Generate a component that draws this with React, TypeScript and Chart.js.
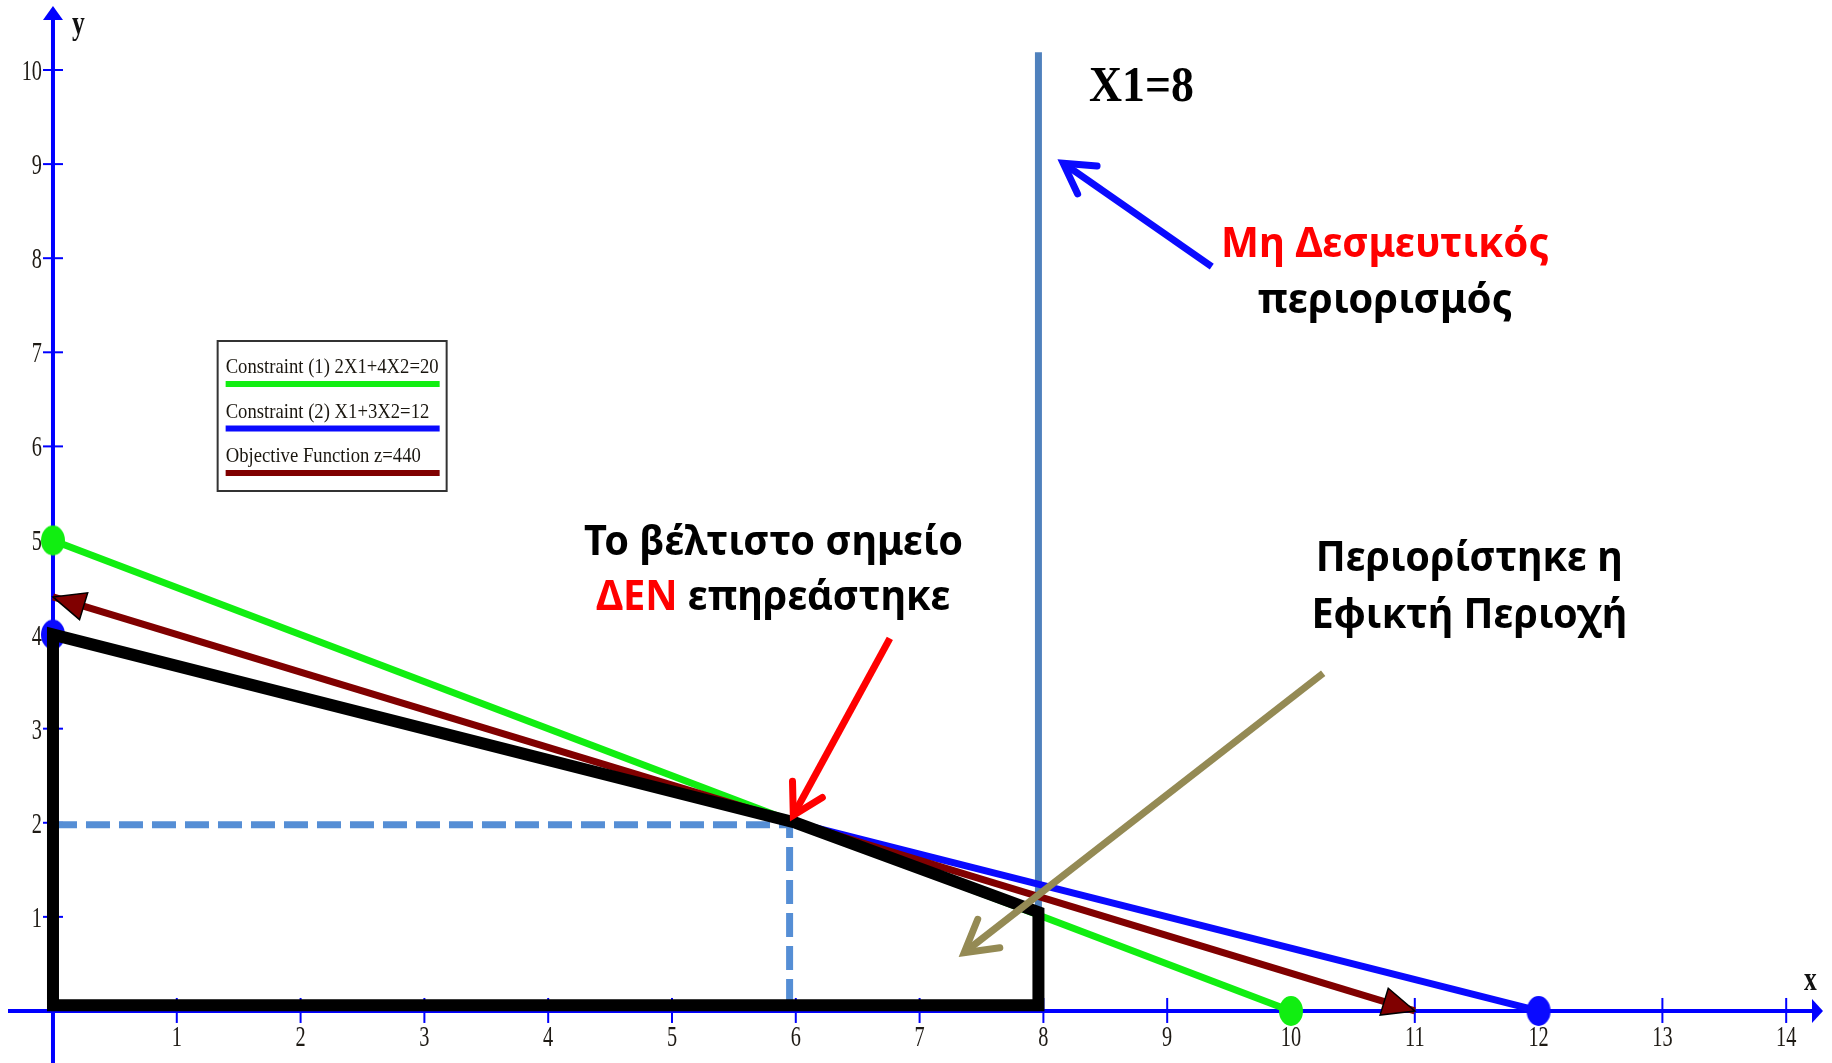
import React, { useEffect, useRef } from 'react';
import { Chart, registerables } from 'chart.js';

Chart.register(...registerables);

// ---------------- data ----------------
const xTickValues = [1, 2, 3, 4, 5, 6, 7, 8, 9, 10, 11, 12, 13, 14];
const xTickLabels = ['1', '2', '3', '4', '5', '6', '7', '8', '9', '10', '11', '12', '13', '14'];
const yTickValues = [1, 2, 3, 4, 5, 6, 7, 8, 9, 10];
const yTickLabels = ['1', '2', '3', '4', '5', '6', '7', '8', '9', '10'];

const constraint1X = [0, 10];
const constraint1Y = [5, 0];
const constraint2X = [0, 12];
const constraint2Y = [4, 0];
const objectiveX = [0, 11];
const objectiveY = [4.4, 0];
const feasibleX = [0, 0, 6, 7.96, 7.96, 0];
const feasibleY = [0.06, 4, 2, 1.05, 0.06, 0.06];
const limitX = [7.96, 7.96];
const limitY = [0, 10.19];
const guideX = [0, 5.95, 5.95];
const guideY = [1.98, 1.98, 0.1];

const seriesLabels = [
  'Constraint (1) 2X1+4X2=20',
  'Constraint (2) X1+3X2=12',
  'Objective Function z=440',
];

// ---------------- layout / style ----------------
const W = 1832;
const H = 1063;
const X_MIN = -0.428;
const X_MAX = 14.37;
const Y_MIN = -0.553;
const Y_MAX = 10.744;

const AXIS_BLUE = '#0000ff';
const GREEN = '#11ee11';
const BLUE = '#0a0aff';
const DARK_RED = '#800000';
const STEEL = '#4f81bd';
const GUIDE = '#558ed5';
const OLIVE = '#948a54';

const GREEK_FONT = '"Noto Sans", "Open Sans", "DejaVu Sans", sans-serif';
const SERIF = '"Liberation Serif", "Times New Roman", serif';

const pts = (xs: number[], ys: number[]) => xs.map((x, i) => ({ x, y: ys[i] }));

function makeEllipse(color: string): HTMLCanvasElement {
  const c = document.createElement('canvas');
  c.width = 26;
  c.height = 32;
  const g = c.getContext('2d')!;
  g.fillStyle = color;
  g.beginPath();
  g.ellipse(13, 16, 12, 15, 0, 0, Math.PI * 2);
  g.fill();
  return c;
}

function filledArrow(ctx: CanvasRenderingContext2D, tx: number, ty: number, fx: number, fy: number, len: number, half: number, fill: string) {
  const a = Math.atan2(ty - fy, tx - fx);
  const bx = tx - len * Math.cos(a);
  const by = ty - len * Math.sin(a);
  const nx = -Math.sin(a);
  const ny = Math.cos(a);
  ctx.save();
  ctx.beginPath();
  ctx.moveTo(tx, ty);
  ctx.lineTo(bx + half * nx, by + half * ny);
  ctx.lineTo(bx - half * nx, by - half * ny);
  ctx.closePath();
  ctx.fillStyle = fill;
  ctx.fill();
  ctx.lineWidth = 1.5;
  ctx.strokeStyle = '#000';
  ctx.stroke();
  ctx.restore();
}

function chevronArrow(ctx: CanvasRenderingContext2D, fx: number, fy: number, tx: number, ty: number, color: string, width: number, wing: number, angDeg: number) {
  const a = Math.atan2(fy - ty, fx - tx);
  const d = (angDeg * Math.PI) / 180;
  ctx.save();
  ctx.strokeStyle = color;
  ctx.lineWidth = width;
  ctx.lineCap = 'butt';
  ctx.beginPath();
  ctx.moveTo(fx, fy);
  ctx.lineTo(tx, ty);
  ctx.stroke();
  ctx.lineCap = 'round';
  ctx.lineJoin = 'miter';
  ctx.beginPath();
  ctx.moveTo(tx + wing * Math.cos(a + d), ty + wing * Math.sin(a + d));
  ctx.lineTo(tx, ty);
  ctx.lineTo(tx + wing * Math.cos(a - d), ty + wing * Math.sin(a - d));
  ctx.stroke();
  ctx.restore();
}

type Part = { text: string; color: string };

function drawBlock(ctx: CanvasRenderingContext2D, lines: Part[][], cx: number, baseline: number, lineGap: number, font: string, targetWidth: number) {
  ctx.save();
  ctx.font = font;
  ctx.textAlign = 'left';
  ctx.textBaseline = 'alphabetic';
  const first = lines[0].map((p) => ctx.measureText(p.text).width).reduce((a, b) => a + b, 0);
  const sx = targetWidth / first;
  lines.forEach((parts, li) => {
    const widths = parts.map((p) => ctx.measureText(p.text).width);
    const total = widths.reduce((a, b) => a + b, 0);
    ctx.save();
    ctx.translate(cx, baseline + li * lineGap);
    ctx.scale(sx, 1);
    let x = -total / 2;
    parts.forEach((p, i) => {
      ctx.fillStyle = p.color;
      ctx.fillText(p.text, x, 0);
      x += widths[i];
    });
    ctx.restore();
  });
  ctx.restore();
}

function squeezedText(ctx: CanvasRenderingContext2D, text: string, x: number, y: number, sx: number, align: 'left' | 'right' | 'center') {
  ctx.save();
  ctx.translate(x, y);
  ctx.scale(sx, 1);
  ctx.textAlign = align;
  ctx.fillText(text, 0, 0);
  ctx.restore();
}

const axesPlugin = {
  id: 'axesPlugin',
  beforeDatasetsDraw(chart: any) {
    const ctx: CanvasRenderingContext2D = chart.ctx;
    const xs = chart.scales.x;
    const ys = chart.scales.y;
    const x0 = xs.getPixelForValue(0);
    const y0 = ys.getPixelForValue(0);
    ctx.save();
    ctx.strokeStyle = AXIS_BLUE;
    ctx.fillStyle = AXIS_BLUE;
    // x axis
    ctx.lineWidth = 4;
    ctx.beginPath();
    ctx.moveTo(8, y0);
    ctx.lineTo(1814, y0);
    ctx.stroke();
    ctx.beginPath();
    ctx.moveTo(1823, y0);
    ctx.lineTo(1812, y0 - 12);
    ctx.lineTo(1812, y0 + 12);
    ctx.closePath();
    ctx.fill();
    // y axis
    ctx.beginPath();
    ctx.moveTo(x0, H);
    ctx.lineTo(x0, 18);
    ctx.stroke();
    ctx.beginPath();
    ctx.moveTo(x0, 6);
    ctx.lineTo(x0 - 10, 20);
    ctx.lineTo(x0 + 10, 20);
    ctx.closePath();
    ctx.fill();
    // ticks
    ctx.lineWidth = 2;
    xTickValues.forEach((v) => {
      const px = xs.getPixelForValue(v);
      ctx.beginPath();
      ctx.moveTo(px, y0 - 13);
      ctx.lineTo(px, y0 + 12);
      ctx.stroke();
    });
    yTickValues.forEach((v) => {
      const py = ys.getPixelForValue(v);
      ctx.beginPath();
      ctx.moveTo(x0 - 10, py);
      ctx.lineTo(x0 + 10, py);
      ctx.stroke();
    });
    // tick labels
    ctx.fillStyle = '#1e1a14';
    ctx.font = `29px ${SERIF}`;
    ctx.textBaseline = 'alphabetic';
    xTickValues.forEach((v, i) => {
      squeezedText(ctx, xTickLabels[i], xs.getPixelForValue(v), y0 + 35, 0.7, 'center');
    });
    yTickValues.forEach((v, i) => {
      squeezedText(ctx, yTickLabels[i], x0 - 11, ys.getPixelForValue(v) + 10, 0.7, 'right');
    });
    // axis names
    ctx.fillStyle = '#111';
    ctx.font = `bold 34px ${SERIF}`;
    squeezedText(ctx, 'y', x0 + 19, 34, 0.75, 'left');
    squeezedText(ctx, 'x', 1804, y0 - 21, 0.75, 'left');
    ctx.restore();
  },
};

const overlayPlugin = {
  id: 'overlayPlugin',
  afterDatasetsDraw(chart: any) {
    const ctx: CanvasRenderingContext2D = chart.ctx;
    const xs = chart.scales.x;
    const ys = chart.scales.y;
    const px = (v: number) => xs.getPixelForValue(v);
    const py = (v: number) => ys.getPixelForValue(v);

    // objective function arrowheads
    const n = objectiveX.length - 1;
    filledArrow(ctx, px(objectiveX[0]), py(objectiveY[0]), px(objectiveX[1]), py(objectiveY[1]), 32, 14, DARK_RED);
    filledArrow(ctx, px(objectiveX[n]), py(objectiveY[n]), px(objectiveX[n - 1]), py(objectiveY[n - 1]), 32, 14, DARK_RED);

    // legend
    const lx = px(1.33);
    const ly = py(7.12);
    ctx.save();
    ctx.fillStyle = '#fff';
    ctx.fillRect(lx, ly, 229, 150);
    ctx.strokeStyle = '#333';
    ctx.lineWidth = 2;
    ctx.strokeRect(lx, ly, 229, 150);
    ctx.font = `22px ${SERIF}`;
    const legendColors = [GREEN, BLUE, DARK_RED];
    const sxL = 213 / ctx.measureText(seriesLabels[0]).width;
    seriesLabels.forEach((lab, i) => {
      const base = ly + 32 + i * 44.5;
      ctx.fillStyle = '#1a160f';
      squeezedText(ctx, lab, lx + 8, base, sxL, 'left');
      ctx.fillStyle = legendColors[i];
      ctx.fillRect(lx + 8, base + 8, 214, 6);
    });
    ctx.restore();

    // X1=8 label
    ctx.save();
    ctx.fillStyle = '#000';
    ctx.font = `bold 50px ${SERIF}`;
    const sxX = 105 / ctx.measureText('X1=8').width;
    squeezedText(ctx, 'X1=8', px(8.368), py(9.67), sxX, 'left');
    ctx.restore();

    // annotation arrows
    chevronArrow(ctx, px(9.36), py(7.91), px(8.16), py(9.01), BLUE, 7, 34, 30);
    chevronArrow(ctx, px(6.76), py(3.96), px(5.98), py(2.08), '#ff0000', 7, 34, 30);
    chevronArrow(ctx, px(10.26), py(3.59), px(7.36), py(0.62), OLIVE, 7, 36, 30);

    // annotation texts
    const f = `bold 42px ${GREEK_FONT}`;
    drawBlock(ctx, [
      [{ text: 'Το βέλτιστο σημείο', color: '#000' }],
      [{ text: 'ΔΕΝ', color: '#ff0000' }, { text: ' επηρεάστηκε', color: '#000' }],
    ], px(5.82), py(4.846), 55, f, 379);
    drawBlock(ctx, [
      [{ text: 'Μη Δεσμευτικός', color: '#ff0000' }],
      [{ text: 'περιορισμός', color: '#000' }],
    ], px(10.76), py(8.013), 56, f, 328);
    drawBlock(ctx, [
      [{ text: 'Περιορίστηκε η', color: '#000' }],
      [{ text: 'Εφικτή Περιοχή', color: '#000' }],
    ], px(11.44), py(4.676), 57, f, 307);
  },
};

export default function App() {
  const ref = useRef<HTMLCanvasElement | null>(null);

  useEffect(() => {
    document.body.style.margin = '0';
    const canvas = ref.current!;
    const greenDot = makeEllipse(GREEN);
    const blueDot = makeEllipse(BLUE);
    const chart = new Chart(canvas, {
      type: 'line',
      data: {
        datasets: [
          {
            label: 'Feasible region',
            data: pts(feasibleX, feasibleY),
            borderColor: '#000',
            borderWidth: 12,
            borderJoinStyle: 'miter',
            borderCapStyle: 'square',
            pointRadius: 0,
            fill: false,
            order: 1,
          },
          {
            label: seriesLabels[2],
            data: pts(objectiveX, objectiveY),
            borderColor: DARK_RED,
            borderWidth: 7,
            pointRadius: 0,
            fill: false,
            order: 2,
          },
          {
            label: seriesLabels[1],
            data: pts(constraint2X, constraint2Y),
            borderColor: BLUE,
            borderWidth: 7,
            pointRadius: 12,
            pointStyle: blueDot,
            fill: false,
            order: 3,
          },
          {
            label: seriesLabels[0],
            data: pts(constraint1X, constraint1Y),
            borderColor: GREEN,
            borderWidth: 7,
            pointRadius: 12,
            pointStyle: greenDot,
            fill: false,
            order: 4,
          },
          {
            label: 'X1=8',
            data: pts(limitX, limitY),
            borderColor: STEEL,
            borderWidth: 7,
            pointRadius: 0,
            fill: false,
            order: 5,
          },
          {
            label: 'Optimum guides',
            data: pts(guideX, guideY),
            borderColor: GUIDE,
            borderWidth: 7,
            borderDash: [24, 9],
            pointRadius: 0,
            fill: false,
            order: 6,
          },
        ],
      },
      options: {
        animation: false,
        responsive: false,
        events: [],
        layout: { padding: 0, autoPadding: false },
        plugins: { legend: { display: false }, tooltip: { enabled: false } },
        elements: { line: { tension: 0 } },
        scales: {
          x: { type: 'linear', min: X_MIN, max: X_MAX, display: false },
          y: { type: 'linear', min: Y_MIN, max: Y_MAX, display: false },
        },
      },
      plugins: [axesPlugin, overlayPlugin],
    } as any);
    return () => chart.destroy();
  }, []);

  return (
    <div style={{ position: 'absolute', left: 0, top: 0, width: W, height: H, background: '#fff' }}>
      <canvas ref={ref} width={W} height={H} style={{ display: 'block', width: W, height: H }} />
    </div>
  );
}
